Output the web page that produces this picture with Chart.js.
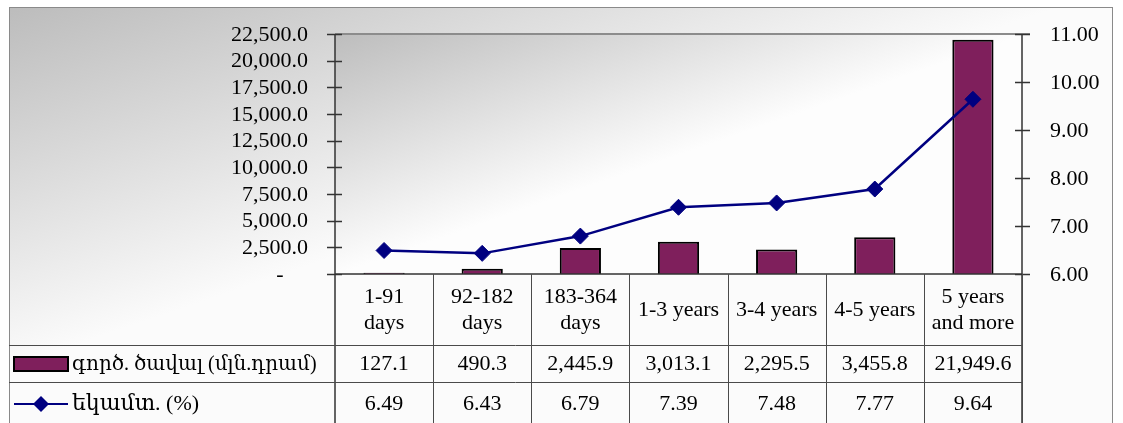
<!DOCTYPE html>
<html>
<head>
<meta charset="utf-8">
<script src="https://cdn.jsdelivr.net/npm/chart.js@4.4.1/dist/chart.umd.min.js"></script>
<style>
  html, body { margin: 0; padding: 0; background: #fff; }
  #wrap { width: 1123px; height: 423px; }
</style>
</head>
<body>
<div id="wrap"><canvas id="myChart" width="1123" height="423"></canvas></div>
<script>
// data
const categories = [["1-91", "days"], ["92-182", "days"], ["183-364", "days"], ["1-3 years"], ["3-4 years"], ["4-5 years"], ["5 years", "and more"]];
const volume = [127.1, 490.3, 2445.9, 3013.1, 2295.5, 3455.8, 21949.6];
const yieldPct = [6.49, 6.43, 6.79, 7.39, 7.48, 7.77, 9.64];
const seriesNames = ["գործ. ծավալ (մլն.դրամ)", "եկամտ. (%)"];

const FONT = '"Liberation Serif", "DejaVu Serif", "Times New Roman", serif';
const BAR = "#7f1f5c";
const NAVY = "#000080";
const LINE = "#4a4a4a";

function fmt1(v) {
  return v.toLocaleString("en-US", { minimumFractionDigits: 1, maximumFractionDigits: 1 });
}
const leftLabel = v => (v === 0 ? "-" : fmt1(v));
const rightLabel = v => v.toFixed(2);

// fixed axis widths so the plot sits where the original one does
function fixWidth(w) {
  return function (scale) {
    scale.width = w;
    scale.paddingTop = 0;
    scale.paddingBottom = 0;
  };
}

const chartBits = {
  id: "chartBits",
  beforeDraw(chart) {
    const ctx = chart.ctx;
    const a = chart.chartArea;
    ctx.save();
    ctx.fillStyle = "#fff";
    ctx.fillRect(0, 0, chart.width, chart.height);
    // outer background, grey corner fading to white
    let g = ctx.createLinearGradient(9, 7, 120, 330);
    g.addColorStop(0, "#bcbcbc");
    g.addColorStop(1, "#fbfbfb");
    ctx.fillStyle = g;
    ctx.fillRect(9, 7, 1104, chart.height);
    ctx.strokeStyle = "#8a8a8a";
    ctx.lineWidth = 1;
    ctx.strokeRect(9.5, 7.5, 1103, chart.height + 10);
    // plot area
    g = ctx.createLinearGradient(a.left, a.top, a.left + 75, a.top + 215);
    g.addColorStop(0, "#bdbdbd");
    g.addColorStop(1, "#fdfdfd");
    ctx.fillStyle = g;
    ctx.fillRect(a.left, a.top, a.right - a.left, a.bottom - a.top);
    ctx.restore();
  },
  afterDraw(chart) {
    const ctx = chart.ctx;
    const a = chart.chartArea;
    const x = chart.scales.x;
    const yl = chart.scales.y;
    const yr = chart.scales.y1;
    ctx.save();

    // plot top border
    ctx.strokeStyle = "#8c8c8c";
    ctx.lineWidth = 2;
    ctx.beginPath();
    ctx.moveTo(a.left, a.top);
    ctx.lineTo(a.right + 8, a.top);
    ctx.stroke();

    // axes with crossing ticks
    ctx.strokeStyle = "#333";
    ctx.lineWidth = 1.5;
    ctx.beginPath();
    ctx.moveTo(a.left, a.top);
    ctx.lineTo(a.left, chart.height);
    ctx.moveTo(a.right, a.top);
    ctx.lineTo(a.right, chart.height);
    ctx.moveTo(a.left, a.bottom);
    ctx.lineTo(a.right, a.bottom);
    yl.ticks.forEach(t => {
      const py = Math.round(yl.getPixelForValue(t.value)) + 0.5;
      ctx.moveTo(a.left - 8, py);
      ctx.lineTo(a.left + 7, py);
    });
    yr.ticks.forEach(t => {
      const py = Math.round(yr.getPixelForValue(t.value)) + 0.5;
      ctx.moveTo(a.right - 7, py);
      ctx.lineTo(a.right + 8, py);
    });
    ctx.stroke();

    // tick labels
    ctx.fillStyle = "#000";
    ctx.font = "22px " + FONT;
    ctx.textBaseline = "middle";
    yl.ticks.forEach(t => {
      const py = yl.getPixelForValue(t.value) + 1;
      if (t.value === 0) {
        ctx.textAlign = "center";
        ctx.fillText(leftLabel(t.value), a.left - 55, py);
      } else {
        ctx.textAlign = "right";
        ctx.fillText(leftLabel(t.value), a.left - 27, py);
      }
    });
    ctx.textAlign = "left";
    yr.ticks.forEach(t => {
      ctx.fillText(rightLabel(t.value), a.right + 28, yr.getPixelForValue(t.value) + 1);
    });

    // data table
    const rowH = a.bottom + 71;
    const row2 = rowH + 37;
    const bottom = chart.height;
    const half = (x.getPixelForValue(1) - x.getPixelForValue(0)) / 2;
    ctx.strokeStyle = LINE;
    ctx.lineWidth = 1;
    ctx.beginPath();
    ctx.moveTo(9, rowH + 0.5);
    ctx.lineTo(a.right, rowH + 0.5);
    ctx.moveTo(9, row2 + 0.5);
    ctx.lineTo(a.right, row2 + 0.5);
    categories.forEach((c, i) => {
      const bx = Math.round(x.getPixelForValue(i) + half) + 0.5;
      ctx.moveTo(bx, a.bottom);
      ctx.lineTo(bx, bottom);
    });
    ctx.stroke();

    ctx.fillStyle = "#000";
    ctx.font = "22px " + FONT;
    ctx.textAlign = "center";
    ctx.textBaseline = "middle";
    const hMid = (a.bottom + rowH) / 2 + 1;
    categories.forEach((c, i) => {
      const cx = x.getPixelForValue(i);
      const y0 = hMid - (c.length - 1) * 13;
      c.forEach((ln, k) => ctx.fillText(ln, cx, y0 + k * 26));
      ctx.fillText(fmt1(volume[i]), cx, (rowH + row2) / 2 + 1);
      ctx.fillText(yieldPct[i].toFixed(2), cx, row2 + 22);
    });

    // legend keys in the table
    ctx.fillStyle = BAR;
    ctx.fillRect(14, rowH + 12, 54, 14);
    ctx.strokeStyle = "#000";
    ctx.lineWidth = 2;
    ctx.strokeRect(14, rowH + 12, 54, 14);
    ctx.strokeStyle = NAVY;
    ctx.lineWidth = 2;
    ctx.beginPath();
    ctx.moveTo(14, row2 + 22);
    ctx.lineTo(68, row2 + 22);
    ctx.stroke();
    ctx.fillStyle = NAVY;
    ctx.beginPath();
    ctx.moveTo(41, row2 + 14);
    ctx.lineTo(49, row2 + 22);
    ctx.lineTo(41, row2 + 30);
    ctx.lineTo(33, row2 + 22);
    ctx.closePath();
    ctx.fill();

    ctx.fillStyle = "#000";
    ctx.textAlign = "left";
    const room = a.left - 13 - 72;
    seriesNames.forEach((name, i) => {
      let size = 22;
      ctx.font = size + "px " + FONT;
      const w = ctx.measureText(name).width;
      if (w > room) {
        size = Math.floor(size * room / w);
        ctx.font = size + "px " + FONT;
      }
      ctx.fillText(name, 72, i === 0 ? (rowH + row2) / 2 + 1 : row2 + 22);
    });
    ctx.restore();
  }
};

new Chart(document.getElementById("myChart"), {
  data: {
    labels: categories,
    datasets: [
      {
        type: "line",
        label: seriesNames[1],
        data: yieldPct,
        yAxisID: "y1",
        order: 0,
        borderColor: NAVY,
        borderWidth: 2.5,
        tension: 0,
        pointStyle: "rectRot",
        pointRadius: 8,
        pointBackgroundColor: NAVY,
        pointBorderColor: NAVY,
        pointBorderWidth: 1
      },
      {
        type: "bar",
        label: seriesNames[0],
        data: volume,
        yAxisID: "y",
        order: 1,
        backgroundColor: BAR,
        borderColor: "#000",
        borderWidth: 2,
        categoryPercentage: 1,
        barPercentage: 0.42
      }
    ]
  },
  options: {
    responsive: false,
    animation: false,
    devicePixelRatio: 1,
    layout: { padding: { top: 34, bottom: 149, left: 0, right: 0 } },
    plugins: { legend: { display: false }, tooltip: { enabled: false } },
    scales: {
      x: { display: false, offset: true },
      y: {
        position: "left",
        min: 0,
        max: 22500,
        grid: { display: false, drawTicks: false },
        border: { display: false },
        afterFit: fixWidth(335),
        ticks: { display: false, stepSize: 2500, autoSkip: false }
      },
      y1: {
        position: "right",
        min: 6,
        max: 11,
        grid: { display: false, drawTicks: false },
        border: { display: false },
        afterFit: fixWidth(101),
        ticks: { display: false, stepSize: 1, autoSkip: false }
      }
    }
  },
  plugins: [chartBits]
});
</script>
</body>
</html>
